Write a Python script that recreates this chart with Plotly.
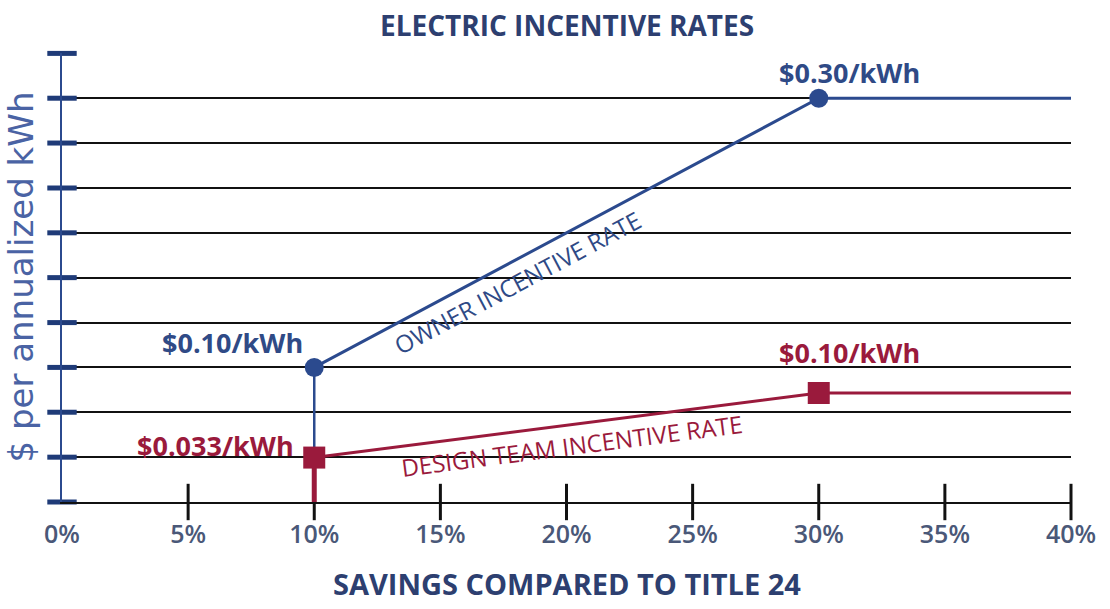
import plotly.graph_objects as go

# ---- data ----
savings_pct = [10, 30, 40]                 # % savings vs Title 24
owner_rate = [0.10, 0.30, 0.30]            # $/kWh, owner incentive
design_rate = [0.033, 0.081, 0.081]        # $/kWh as drawn (labelled $0.10 at plateau)
x_tick_vals = [0, 5, 10, 15, 20, 25, 30, 35, 40]
x_tick_text = ["0%", "5%", "10%", "15%", "20%", "25%", "30%", "35%", "40%"]
y_grid_vals = [0.0, 0.0333, 0.0667, 0.10, 0.1333, 0.1667, 0.20, 0.2333, 0.2667, 0.30, 0.3333]
owner_labels = ["$0.10/kWh", "$0.30/kWh"]
design_labels = ["$0.033/kWh", "$0.10/kWh"]

BLUE = "#2b4a8e"
BLUE_TXT = "#2f4a86"
RED = "#9a1a3c"
AXIS_TXT = "#4a5878"
FONT = "Open Sans"

fig = go.Figure()

# y-axis tick marks (blue dashes straddling the axis)
fig.add_trace(go.Scatter(
    x=[0] * len(y_grid_vals), y=y_grid_vals, mode="markers",
    marker=dict(symbol="line-ew", size=21, line=dict(width=5, color="#1f3b78")),
    cliponaxis=False, hoverinfo="skip", showlegend=False))

# x-axis tick marks (black, crossing the axis)
fig.add_trace(go.Scatter(
    x=x_tick_vals[1:], y=[0] * (len(x_tick_vals) - 1), mode="markers",
    marker=dict(symbol="line-ns", size=26, line=dict(width=3, color="#111111")),
    cliponaxis=False, hoverinfo="skip", showlegend=False))

# drop lines at 10%
fig.add_trace(go.Scatter(
    x=[savings_pct[0], savings_pct[0]], y=[design_rate[0], owner_rate[0]],
    mode="lines", line=dict(color=BLUE, width=2.5),
    hoverinfo="skip", showlegend=False))
fig.add_trace(go.Scatter(
    x=[savings_pct[0], savings_pct[0]], y=[0, design_rate[0]],
    mode="lines", line=dict(color=RED, width=5),
    cliponaxis=False, hoverinfo="skip", showlegend=False))

# owner incentive rate
fig.add_trace(go.Scatter(
    x=savings_pct, y=owner_rate, mode="lines+markers",
    line=dict(color=BLUE, width=3),
    marker=dict(symbol="circle", size=[19, 19, 0], color=BLUE, opacity=1,
                line=dict(width=0)),
    cliponaxis=False, hoverinfo="skip", showlegend=False))

# design team incentive rate
fig.add_trace(go.Scatter(
    x=savings_pct, y=design_rate, mode="lines+markers",
    line=dict(color=RED, width=3),
    marker=dict(symbol="square", size=[22, 22, 0], color=RED, opacity=1,
                line=dict(width=0)),
    cliponaxis=False, hoverinfo="skip", showlegend=False))

annotations = [
    # title
    dict(text="<b>ELECTRIC INCENTIVE RATES</b>", xref="paper", yref="paper",
         x=0.5, y=1, yshift=28, xanchor="center", yanchor="middle", showarrow=False,
         font=dict(family=FONT, size=28, color="#2d3f70")),
    # x title
    dict(text="<b>SAVINGS COMPARED TO TITLE 24</b>", xref="paper", yref="paper",
         x=0.5, y=0, yshift=-81, xanchor="center", yanchor="middle", showarrow=False,
         font=dict(family=FONT, size=29, color="#2d3f70")),
    # y title
    dict(text="$ per annualized kWh", xref="paper", yref="paper",
         x=0, y=0.5, xshift=-42, xanchor="center", yanchor="middle",
         textangle=-90, showarrow=False,
         font=dict(family="DejaVu Sans", size=34, color="#4a63a4")),
    # point labels
    dict(text="<b>" + owner_labels[0] + "</b>", x=6.74, y=0.1187, showarrow=False,
         font=dict(family=FONT, size=27, color=BLUE_TXT)),
    dict(text="<b>" + owner_labels[1] + "</b>", x=31.2, y=0.319, showarrow=False,
         font=dict(family=FONT, size=27, color=BLUE_TXT)),
    dict(text="<b>" + design_labels[0] + "</b>", x=6.07, y=0.0423, showarrow=False,
         font=dict(family=FONT, size=27, color=RED)),
    dict(text="<b>" + design_labels[1] + "</b>", x=31.2, y=0.1113, showarrow=False,
         font=dict(family=FONT, size=27, color=RED)),
    # line labels
    dict(text="OWNER INCENTIVE RATE", x=18.05, y=0.163, textangle=-28, showarrow=False,
         font=dict(family=FONT, size=24, color=BLUE_TXT)),
    dict(text="DESIGN TEAM INCENTIVE RATE", x=20.2, y=0.0423, textangle=-7.4, showarrow=False,
         font=dict(family=FONT, size=24, color=RED)),
]

fig.update_layout(
    width=1110, height=609,
    margin=dict(l=62, r=39, t=53, b=107),
    paper_bgcolor="white", plot_bgcolor="white",
    showlegend=False,
    annotations=annotations,
    xaxis=dict(range=[0, 40], tickvals=x_tick_vals, ticktext=x_tick_text,
               showgrid=False, zeroline=False, ticks="",
               showline=True, linecolor="#111111", linewidth=2,
               ticklabelstandoff=9,
               tickfont=dict(family=FONT, size=25, color=AXIS_TXT, weight=600)),
    yaxis=dict(range=[0, 0.3336], tickvals=y_grid_vals, showticklabels=False,
               showgrid=True, gridcolor="#111111", gridwidth=1.5,
               zeroline=False, ticks="",
               showline=True, linecolor="#2b4a8e", linewidth=2),
)

fig.write_html("out.html", config={"displayModeBar": False},
               post_script="document.body.style.margin='0';")
